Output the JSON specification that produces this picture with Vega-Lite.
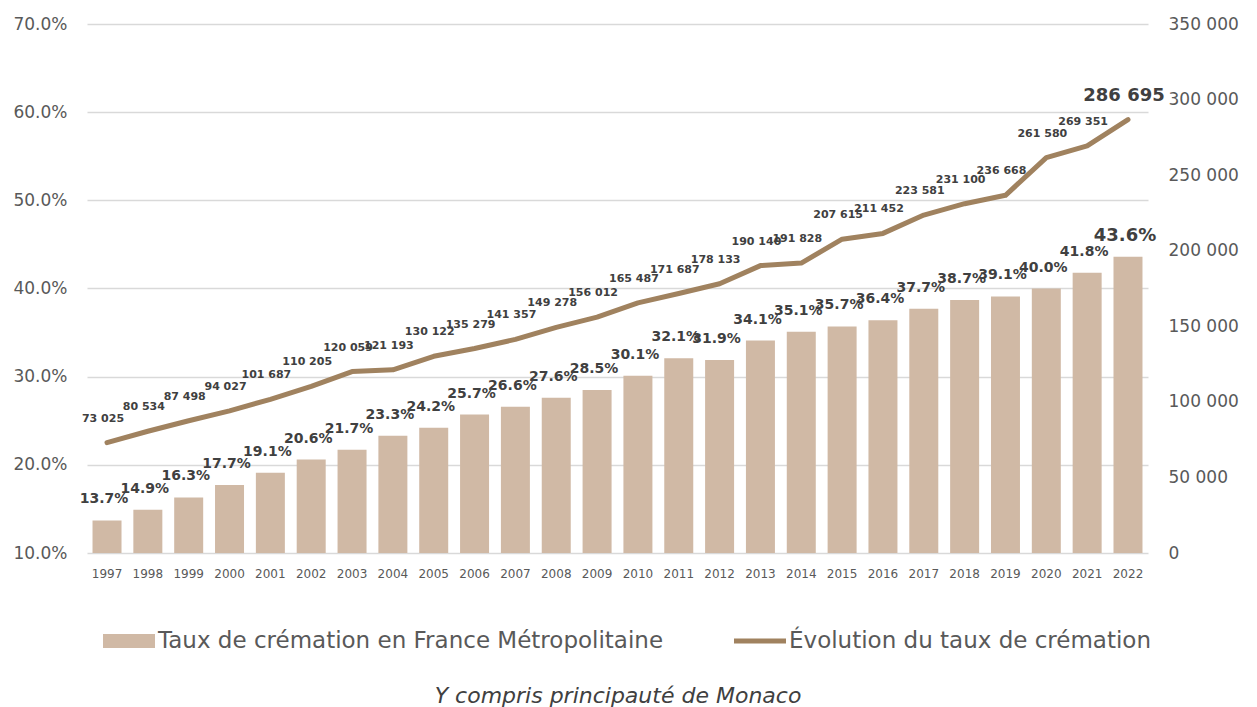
{
  "$schema": "https://vega.github.io/schema/vega-lite/v6.json",
  "width": 1061,
  "height": 529,
  "autosize": {"type": "none"},
  "padding": {"left": 87, "top": 24, "right": 109, "bottom": 154},
  "background": "white",
  "config": {
    "view": {"stroke": null},
    "locale": {"number": {"decimal": ".", "thousands": " ", "grouping": [3], "currency": ["", " €"]}},
    "font": "DejaVu Sans"
  },
  "data": {
    "values": [
      {"year": "1997", "rate": 0.137, "count": 73025},
      {"year": "1998", "rate": 0.149, "count": 80534},
      {"year": "1999", "rate": 0.163, "count": 87498},
      {"year": "2000", "rate": 0.177, "count": 94027},
      {"year": "2001", "rate": 0.191, "count": 101687},
      {"year": "2002", "rate": 0.206, "count": 110205},
      {"year": "2003", "rate": 0.217, "count": 120059},
      {"year": "2004", "rate": 0.233, "count": 121193},
      {"year": "2005", "rate": 0.242, "count": 130122},
      {"year": "2006", "rate": 0.257, "count": 135279},
      {"year": "2007", "rate": 0.266, "count": 141357},
      {"year": "2008", "rate": 0.276, "count": 149278},
      {"year": "2009", "rate": 0.285, "count": 156012},
      {"year": "2010", "rate": 0.301, "count": 165487},
      {"year": "2011", "rate": 0.321, "count": 171687},
      {"year": "2012", "rate": 0.319, "count": 178133},
      {"year": "2013", "rate": 0.341, "count": 190140},
      {"year": "2014", "rate": 0.351, "count": 191828},
      {"year": "2015", "rate": 0.357, "count": 207615},
      {"year": "2016", "rate": 0.364, "count": 211452},
      {"year": "2017", "rate": 0.377, "count": 223581},
      {"year": "2018", "rate": 0.387, "count": 231100},
      {"year": "2019", "rate": 0.391, "count": 236668},
      {"year": "2020", "rate": 0.400, "count": 261580},
      {"year": "2021", "rate": 0.418, "count": 269351},
      {"year": "2022", "rate": 0.436, "count": 286695}
    ]
  },
  "encoding": {
    "x": {
      "field": "year",
      "type": "ordinal",
      "scale": {"paddingInner": 0.29, "paddingOuter": 0.135},
      "axis": {
        "title": "Y compris principauté de Monaco",
        "titleFont": "DejaVu Sans",
        "titleFontStyle": "italic",
        "titleFontWeight": "normal",
        "titleFontSize": 22,
        "titleColor": "#404040",
        "titlePadding": 106,
        "labelAngle": 0,
        "labelFontSize": 12,
        "labelColor": "#595959",
        "labelPadding": 15,
        "ticks": false,
        "domain": false
      }
    }
  },
  "layer": [
    {
      "layer": [
        {
          "mark": {"type": "bar", "color": "#d0b9a5"},
          "encoding": {
            "y": {
              "field": "rate",
              "type": "quantitative",
              "scale": {"domain": [0.1, 0.7], "zero": false, "nice": false},
              "axis": {
                "title": null,
                "values": [0.1, 0.2, 0.3, 0.4, 0.5, 0.6, 0.7],
                "format": ".1%",
                "labelFontSize": 17,
                "labelColor": "#595959",
                "labelPadding": 20,
                "ticks": false,
                "domain": false,
                "grid": true,
                "gridColor": "#d9d9d9",
                "gridWidth": 1.3
              }
            },
            "y2": {"datum": 0.1},
            "color": {
              "datum": "Taux de crémation en France Métropolitaine",
              "type": "nominal",
              "scale": {
                "domain": ["Taux de crémation en France Métropolitaine", "Évolution du taux de crémation"],
                "range": ["#d0b9a5", "#a0825f"]
              },
              "legend": {
                "title": null,
                "orient": "none",
                "legendX": 16,
                "legendY": 591,
                "direction": "horizontal",
                "labelFontSize": 23,
                "labelColor": "#595959",
                "labelFont": "DejaVu Sans",
                "labelOffset": 3,
                "columnPadding": 70,
                "symbolSize": 2704,
                "symbolType": "square",
                "labelLimit": 700,
                "encode": {
                  "symbols": {
                    "update": {
                      "shape": {"signal": "datum.value === 'Taux de crémation en France Métropolitaine' ? 'M-1,-0.27H1V0.27H-1Z' : 'M-1,-0.1H1V0.1H-1Z'"},
                      "fill": {"signal": "datum.value === 'Taux de crémation en France Métropolitaine' ? '#d0b9a5' : '#a0825f'"},
                      "stroke": {"value": "transparent"},
                      "strokeWidth": {"value": 0},
                      "opacity": {"value": 1}
                    }
                  }
                }
              }
            }
          }
        },
        {
          "mark": {"type": "text", "baseline": "middle", "dy": -21, "dx": -3, "fontWeight": "bold", "color": "#404040"},
          "encoding": {
            "y": {"field": "rate", "type": "quantitative"},
            "text": {"field": "rate", "type": "quantitative", "format": ".1%"},
            "size": {"condition": {"test": "datum.year === '2022'", "value": 18}, "value": 14}
          }
        }
      ]
    },
    {
      "layer": [
        {
          "mark": {"type": "line", "strokeWidth": 5, "strokeCap": "round", "strokeJoin": "round"},
          "encoding": {
            "y": {
              "field": "count",
              "type": "quantitative",
              "scale": {"domain": [0, 350000], "nice": false},
              "axis": {
                "orient": "right",
                "title": null,
                "values": [0, 50000, 100000, 150000, 200000, 250000, 300000, 350000],
                "format": ",d",
                "labelFontSize": 17,
                "labelColor": "#595959",
                "labelPadding": 20,
                "ticks": false,
                "domain": false,
                "grid": false
              }
            },
            "color": {"datum": "Évolution du taux de crémation", "type": "nominal"}
          }
        },
        {
          "mark": {"type": "text", "baseline": "middle", "dy": -24, "dx": -4, "fontWeight": "bold", "color": "#404040"},
          "encoding": {
            "y": {"field": "count", "type": "quantitative"},
            "text": {"field": "count", "type": "quantitative", "format": ",d"},
            "size": {"condition": {"test": "datum.year === '2022'", "value": 18}, "value": 11}
          }
        }
      ]
    }
  ],
  "resolve": {"scale": {"y": "independent"}}
}
